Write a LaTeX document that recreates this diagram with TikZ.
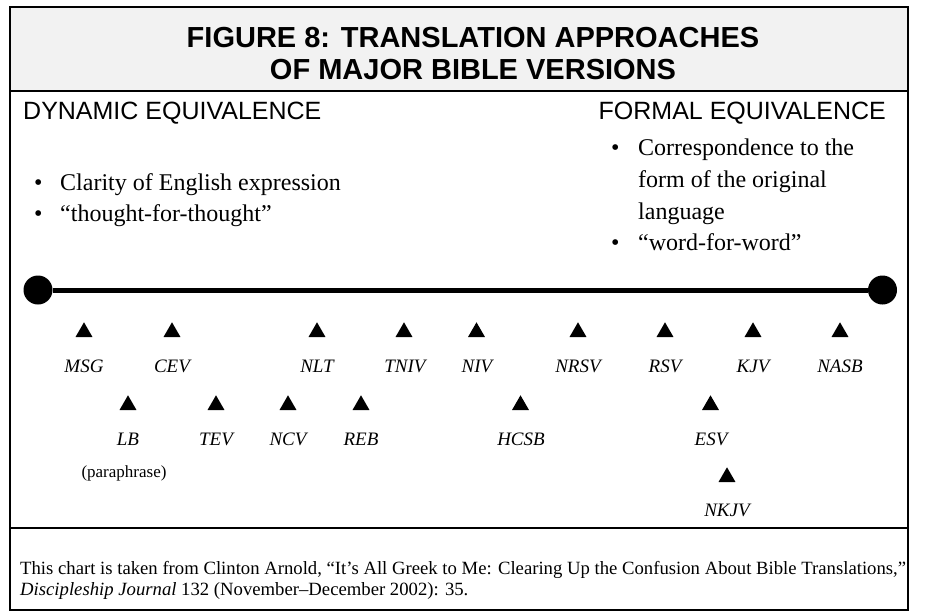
\documentclass[tikz,border=0pt]{standalone}
\usepackage{fontspec}
\setmainfont{Liberation Serif}
\setsansfont{Liberation Sans}
\usetikzlibrary{shapes.geometric}

\begin{document}
\begin{tikzpicture}[x=1pt,y=-1pt,
  tri/.style={regular polygon,regular polygon sides=3,fill=black,inner sep=0pt,outer sep=0pt,minimum size=19.6pt,anchor=south},
  ver/.style={font=\fontsize{19}{22}\selectfont\itshape,inner sep=0pt},
  dot/.style={circle,fill=black,minimum size=29pt,inner sep=0pt},
  spine/.style={line width=5pt},
  frame/.style={line width=1.6pt},
  head/.style={font=\sffamily\fontsize{25}{30}\selectfont,inner sep=0pt},
  bul/.style={font=\fontsize{24}{30}\selectfont,inner sep=0pt,anchor=base west},
  foot/.style={font=\fontsize{18.7}{22}\selectfont,inner sep=0pt,anchor=base west}]
\useasboundingbox (0,0) rectangle (929,613);
% boxes
\filldraw[frame,fill=black!5] (10,7) rectangle (908,91);
\draw[frame] (10,91) rectangle (908,610);
\draw[frame] (10,528) -- (908,528);
\node[font=\sffamily\bfseries\fontsize{29}{32}\selectfont,align=center] (title) at (473,53.5) {FIGURE 8: TRANSLATION APPROACHES\\OF MAJOR BIBLE VERSIONS};

% the two ends
\node[head,anchor=base west] (dyn-h) at (23,119) {DYNAMIC EQUIVALENCE};
\node[head,anchor=base east] (frm-h) at (886,119) {FORMAL EQUIVALENCE};
\node[bul] (clar) at (34,190.6) {\makebox[26pt][l]{\textbullet}Clarity of English expression};
\node[bul] (tft) at (34,221.6) {\makebox[26pt][l]{\textbullet}``thought-for-thought''};
\node[bul] (corr) at (611,155.5) {\makebox[27pt][l]{\textbullet}Correspondence to the};
\node[bul] (form) at (638,187.5) {form of the original};
\node[bul] (lang) at (638,219.5) {language};
\node[bul] (wfw) at (611,250.5) {\makebox[27pt][l]{\textbullet}``word-for-word''};

\node[dot] (dyn) at (38,290) {};
\node[dot] (frm) at (882.5,290) {};
\draw[spine] (dyn) -- (frm);

% first row
\node[tri] (msg) at (84,337) {};
\node[ver] (msg-l) at (84,366) {MSG};
\node[tri] (cev) at (172,337) {};
\node[ver] (cev-l) at (172,366) {CEV};
\node[tri] (nlt) at (317,337) {};
\node[ver] (nlt-l) at (317,366) {NLT};
\node[tri] (tniv) at (404,337) {};
\node[ver] (tniv-l) at (405,366) {TNIV};
\node[tri] (niv) at (476.5,337) {};
\node[ver] (niv-l) at (477,366) {NIV};
\node[tri] (nrsv) at (578,337) {};
\node[ver] (nrsv-l) at (578,366) {NRSV};
\node[tri] (rsv) at (665,337) {};
\node[ver] (rsv-l) at (665,366) {RSV};
\node[tri] (kjv) at (753,337) {};
\node[ver] (kjv-l) at (753,366) {KJV};
\node[tri] (nasb) at (840,337) {};
\node[ver] (nasb-l) at (840,366) {NASB};

% second row
\node[tri] (lb) at (128,410) {};
\node[ver] (lb-l) at (128,439) {LB};
\node[tri] (tev) at (216,410) {};
\node[ver] (tev-l) at (216,439) {TEV};
\node[tri] (ncv) at (288,410) {};
\node[ver] (ncv-l) at (288,439) {NCV};
\node[tri] (reb) at (361,410) {};
\node[ver] (reb-l) at (361,439) {REB};
\node[tri] (hcsb) at (520.5,410) {};
\node[ver] (hcsb-l) at (521,439) {HCSB};
\node[tri] (esv) at (710.5,410) {};
\node[ver] (esv-l) at (711,439) {ESV};
\node[font=\fontsize{17}{20}\selectfont,inner sep=0pt] (para) at (124,473) {(paraphrase)};

% third row
\node[tri] (nkjv) at (727,482) {};
\node[ver] (nkjv-l) at (727,510) {NKJV};

% source
\node[foot] (src1) at (20,574) {This chart is taken from Clinton Arnold, ``It's All Greek to Me: Clearing Up the Confusion About Bible Translations,''};
\node[foot] (src2) at (20,595) {\textit{Discipleship Journal} 132 (November--December 2002): 35.};
\end{tikzpicture}
\end{document}
